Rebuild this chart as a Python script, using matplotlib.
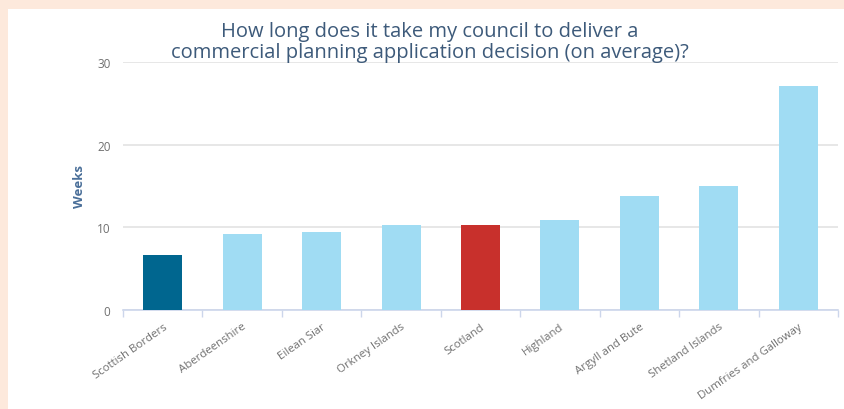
import matplotlib

matplotlib.use("Agg")
import matplotlib.pyplot as plt
from matplotlib.patches import Rectangle

plt.rcParams["font.family"] = ["Open Sans", "DejaVu Sans"]

councils = ["Scottish Borders", "Aberdeenshire", "Eilean Siar", "Orkney Islands", "Scotland",
            "Highland", "Argyll and Bute", "Shetland Islands", "Dumfries and Galloway"]
weeks = [6.6, 9.2, 9.4, 10.2, 10.3, 10.9, 13.8, 15.0, 27.1]
bar_colors = ["#00668f", "#a0dcf3", "#a0dcf3", "#a0dcf3", "#c8302c",
              "#a0dcf3", "#a0dcf3", "#a0dcf3", "#a0dcf3"]
y_ticks = [0, 10, 20, 30]

fig = plt.figure(figsize=(8.45, 4.1), dpi=100)
fig.patch.set_facecolor("#fde9dc")
# white card on top of the peach page, kept behind the axes
card = Rectangle((8 / 845, 0), 1, 400 / 410, transform=fig.transFigure,
                 facecolor="white", edgecolor="none", zorder=-10)
fig.add_artist(card)

ax = fig.add_axes([123 / 845, 99.3 / 410, 715 / 845, 247.7 / 410])
ax.set_zorder(1)
ax.set_facecolor("none")
x = list(range(len(councils)))
ax.bar(x, weeks, width=0.49, color=bar_colors, zorder=3)

ax.set_xlim(-0.5, len(councils) - 0.5)
ax.set_ylim(0, 30)
ax.set_yticks(y_ticks)
ax.set_yticklabels([str(t) for t in y_ticks], fontsize=8.5, color="#707070")
ax.tick_params(axis="y", length=0, pad=9)
ax.grid(axis="y", color="#e3e3e3", linewidth=1.2, zorder=0)

ax.set_xticks(x)
ax.set_xticklabels(councils, rotation=35, ha="right", rotation_mode="anchor",
                   fontsize=8.2, color="#707070")
ax.tick_params(axis="x", length=0, pad=8)
ax.set_xticks([i - 0.5 for i in range(len(councils) + 1)], minor=True)
ax.tick_params(axis="x", which="minor", length=5, color="#ccd6eb", width=1)

for side in ["top", "right", "left"]:
    ax.spines[side].set_visible(False)
ax.spines["bottom"].set_color("#ccd6eb")
ax.spines["bottom"].set_linewidth(1.2)

ax.set_ylabel("Weeks", fontsize=9.5, fontweight="bold", color="#4a6f99", labelpad=8)

fig.text(0.509, 0.897, "How long does it take my council to deliver a\n"
         "commercial planning application decision (on average)?",
         ha="center", va="center", fontsize=14.5, color="#3d5a7a", linespacing=1.08)

fig.savefig("out.png", dpi=100, facecolor=fig.get_facecolor())
